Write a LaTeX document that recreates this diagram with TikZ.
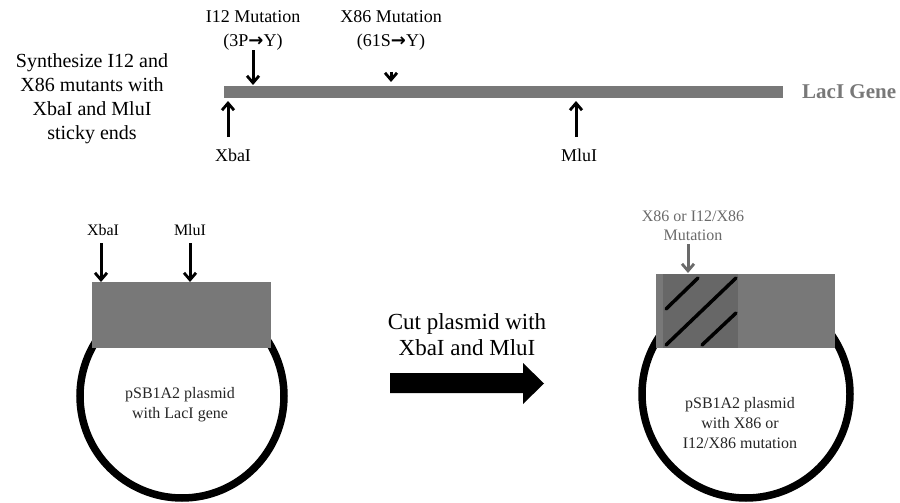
\documentclass[tikz,border=0pt]{standalone}
\usepackage{fontspec}
\setmainfont{Liberation Serif}
\newfontfamily\symfont{DejaVu Sans}
\usetikzlibrary{arrows.meta}
\definecolor{genegray}{HTML}{787878}
\definecolor{hatchgray}{HTML}{676767}
\definecolor{labgray}{HTML}{6A6A6A}
\begin{document}
\begin{tikzpicture}[x=1pt,y=-1pt,
  lbl/.style={inner sep=0pt, align=center, font=\fontsize{18}{24}\selectfont},
  small/.style={inner sep=0pt, align=center, font=\fontsize{16}{20}\selectfont},
  arr/.style={line width=3pt, -{Straight Barb[length=7pt,width=12pt,line width=2.8pt]}},
  genebox/.style={fill=genegray, inner sep=0pt, anchor=north west},
  ring/.style={line width=7.5pt, draw=black},
  hatch/.style={line width=3.5pt, line cap=round},
]
\useasboundingbox (0,0) rectangle (900,503);

% ---------- top: gene ----------
\node[inner sep=0pt, align=center, font=\fontsize{20}{24}\selectfont] (synth) at (92,99)
  {Synthesize I12 and\\X86 mutants with\\XbaI and MluI\\sticky ends};

\node[genebox, minimum width=559pt, minimum height=12pt] (gene) at (224,86) {};
\node[anchor=west, inner sep=0pt, text=genegray, font=\bfseries\fontsize{21}{24}\selectfont] (lacI) at (802,92) {LacI Gene};

\node[lbl] (i12) at (253,30) {I12 Mutation\\(3P{\symfont\bfseries →}Y)};
\coordinate (i12pt) at (253,85);
\draw[arr] (i12.south) -- (i12pt);

\node[lbl] (x86) at (391,30) {X86 Mutation\\(61S{\symfont\bfseries →}Y)};
\coordinate (x86a) at (391,72);
\coordinate (x86pt) at (391,82);
\draw[arr] (x86a) -- (x86pt);

\node[lbl] (xba) at (233,155) {XbaI};
\coordinate (xbapt) at (228,101);
\draw[arr] (228,137) -- (xbapt);

\node[lbl] (mlu) at (579,155) {MluI};
\coordinate (mlupt) at (576,101);
\draw[arr] (576,137) -- (mlupt);

% ---------- bottom left plasmid ----------
\node[ring, circle, minimum size=204pt, inner sep=0pt] (ringL) at (182,396) {};
\node[genebox, minimum width=179pt, minimum height=66pt] (boxL) at (92,282) {};
\node[small] (xbaL) at (103,230) {XbaI};
\node[small] (mluL) at (190,230) {MluI};
\coordinate (xbaLpt) at (101,282);
\coordinate (mluLpt) at (190,282);
\draw[arr] (101,243) -- (xbaLpt);
\draw[arr] (190,243) -- (mluLpt);
\node[small, text=black!85] (plasL) at (180,405) {pSB1A2 plasmid\\with LacI gene};

% ---------- big arrow ----------
\node[inner sep=0pt, align=center, font=\fontsize{23}{26}\selectfont] (cut) at (467,335)
  {Cut plasmid with\\XbaI and MluI};
\fill[black] (390,373) -- (523,373) -- (523,363) -- (544,383.5) -- (523,404) -- (523,393) -- (390,393) -- cycle;

% ---------- bottom right plasmid ----------
\node[ring, circle, minimum size=208pt, inner sep=0pt] (ringR) at (746,394) {};
\node[genebox, minimum width=179pt, minimum height=74pt] (boxR) at (656,274) {};
\fill[hatchgray] (663,274) rectangle (738,348);
\draw[hatch] (666,309) -- (698,278);
\draw[hatch] (666,345) -- (736,278);
\draw[hatch] (702,345) -- (736,313);
\node[small, text=labgray, font=\fontsize{16}{19}\selectfont] (mutR) at (693,226) {X86 or I12/X86\\Mutation};
\coordinate (mutRpt) at (688,273);
\draw[arr, draw=labgray] (688,244) -- (mutRpt);
\node[small, text=black!85] (plasR) at (740,423) {pSB1A2 plasmid\\with X86 or\\I12/X86 mutation};
\end{tikzpicture}
\end{document}
